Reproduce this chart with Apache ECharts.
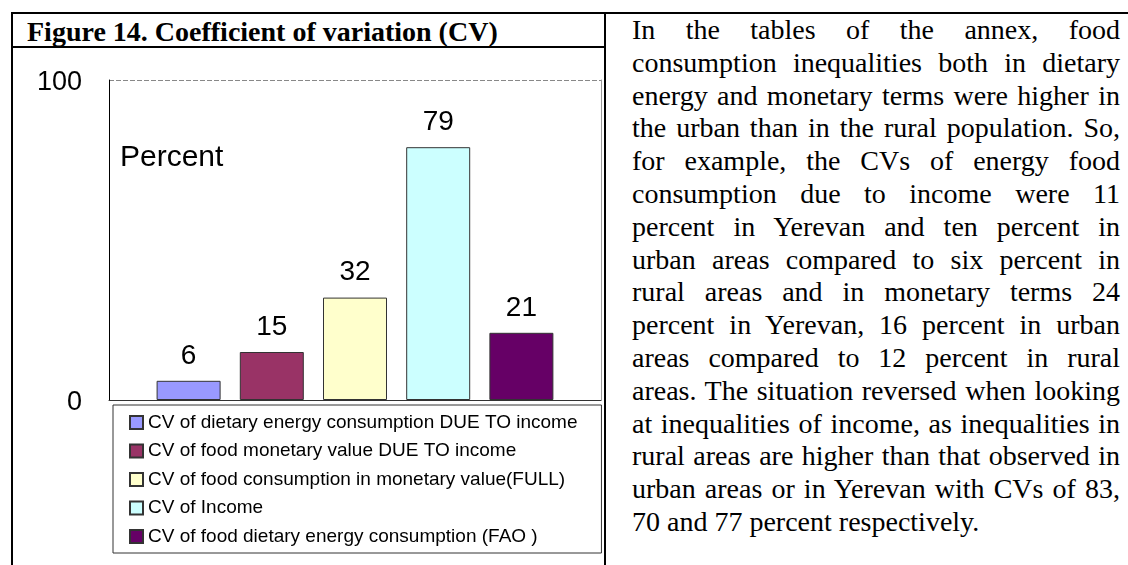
<!DOCTYPE html>
<html lang="en">

<head>
    <meta charset="UTF-8">
    <title>Figure 14</title>
    <style>
        body {
            margin: 0;
            background: #fff;
            width: 1128px;
            height: 565px;
            overflow: hidden;
            position: relative;
        }

        .line {
            position: absolute;
            background: #000;
            z-index: 5;
        }

        .figTitle {
            position: absolute;
            left: 27px;
            top: 18px;
            font-family: "Liberation Serif", "Times New Roman", serif;
            font-weight: bold;
            font-size: 28px;
            line-height: 28px;
            white-space: nowrap;
        }

        #chart {
            position: absolute;
            left: 0;
            top: 0;
            width: 604px;
            height: 565px;
        }

        .para {
            position: absolute;
            left: 632px;
            top: 14px;
            width: 488px;
            font-family: "Liberation Serif", "Times New Roman", serif;
            font-size: 28px;
            line-height: 32.8px;
        }

        .para div {
            text-align: justify;
            text-align-last: justify;
            white-space: nowrap;
        }

        .para div.last {
            text-align-last: left;
        }
    </style>
</head>

<body>
    <!-- table rules -->
    <div class="line" style="left:11px;top:12px;width:1117px;height:2px;"></div>
    <div class="line" style="left:11px;top:12px;width:2px;height:553px;"></div>
    <div class="line" style="left:604px;top:12px;width:2px;height:553px;"></div>
    <div class="line" style="left:11px;top:46px;width:595px;height:2px;"></div>

    <div class="figTitle">Figure 14. Coefficient of variation (CV)</div>
    <div id="chart"></div>

    <div class="para">
        <div>In the tables of the annex, food</div>
        <div>consumption inequalities both in dietary</div>
        <div>energy and monetary terms were higher in</div>
        <div>the urban than in the rural population. So,</div>
        <div>for example, the CVs of energy food</div>
        <div>consumption due to income were 11</div>
        <div>percent in Yerevan and ten percent in</div>
        <div>urban areas compared to six percent in</div>
        <div>rural areas and in monetary terms 24</div>
        <div>percent in Yerevan, 16 percent in urban</div>
        <div>areas compared to 12 percent in rural</div>
        <div>areas. The situation reversed when looking</div>
        <div>at inequalities of income, as inequalities in</div>
        <div>rural areas are higher than that observed in</div>
        <div>urban areas or in Yerevan with CVs of 83,</div>
        <div class="last">70 and 77 percent respectively.</div>
    </div>

    <script src="https://cdn.jsdelivr.net/npm/echarts@6/dist/echarts.min.js"></script>
    <script>
        var seriesNames = [
            'CV of dietary energy consumption DUE TO income',
            'CV of food monetary value DUE TO income',
            'CV of food consumption in monetary value(FULL)',
            'CV of Income',
            'CV of food dietary energy consumption (FAO )'
        ];
        var cvValues = [6, 15, 32, 79, 21];
        var yMin = 0;
        var yMax = 100;
        var yStep = 100;

        var barColors = ['#9999FF', '#993366', '#FFFFCC', '#CCFFFF', '#660066'];
        var sans = '"Liberation Sans", Arial, sans-serif';

        var chart = echarts.init(document.getElementById('chart'));

        var series = seriesNames.map(function (name, i) {
            return {
                name: name,
                type: 'bar',
                data: [cvValues[i]],
                barWidth: 64,
                barGap: '30%',
                itemStyle: {
                    color: barColors[i],
                    borderColor: '#333',
                    borderWidth: 1
                },
                label: {
                    show: true,
                    position: 'top',
                    distance: 11,
                    color: '#000',
                    fontSize: 28,
                    fontFamily: sans
                },
                emphasis: { disabled: true }
            };
        });

        var option = {
            animation: false,
            title: {
                text: 'Percent',
                left: 120,
                top: 143,
                padding: 0,
                textStyle: { fontSize: 30, fontWeight: 'normal', color: '#000', fontFamily: sans }
            },
            grid: { left: 109, top: 80, width: 492, height: 320 },
            legend: {
                orient: 'vertical',
                left: 113,
                top: 405,
                padding: [8, 24, 7, 16],
                borderColor: '#333',
                borderWidth: 1,
                itemWidth: 13,
                itemHeight: 13,
                itemGap: 9.5,
                icon: 'rect',
                selectedMode: false,
                textStyle: { fontSize: 19, lineHeight: 19, color: '#000', fontFamily: sans },
                data: seriesNames
            },
            xAxis: {
                type: 'category',
                data: [''],
                axisLine: { lineStyle: { color: '#333', width: 1 } },
                axisTick: { show: false },
                axisLabel: { show: false }
            },
            yAxis: [{
                type: 'value',
                min: yMin,
                max: yMax,
                interval: yStep,
                axisLine: { show: true, lineStyle: { color: '#000', width: 1 } },
                axisTick: { show: false },
                // labels sit a little below their tick in the original
                axisLabel: { color: '#000', fontSize: 27, fontFamily: sans, margin: 27, verticalAlign: 'top', lineHeight: 6 },
                splitLine: { show: true, lineStyle: { color: '#888', type: [5, 2] } }
            }, {
                // right edge of plot frame
                type: 'value',
                position: 'right',
                min: yMin,
                max: yMax,
                interval: yStep,
                axisLine: { show: true, lineStyle: { color: '#999', width: 1 } },
                axisTick: { show: false },
                axisLabel: { show: false },
                splitLine: { show: false }
            }],
            series: series
        };
        chart.setOption(option);
    </script>
</body>

</html>
